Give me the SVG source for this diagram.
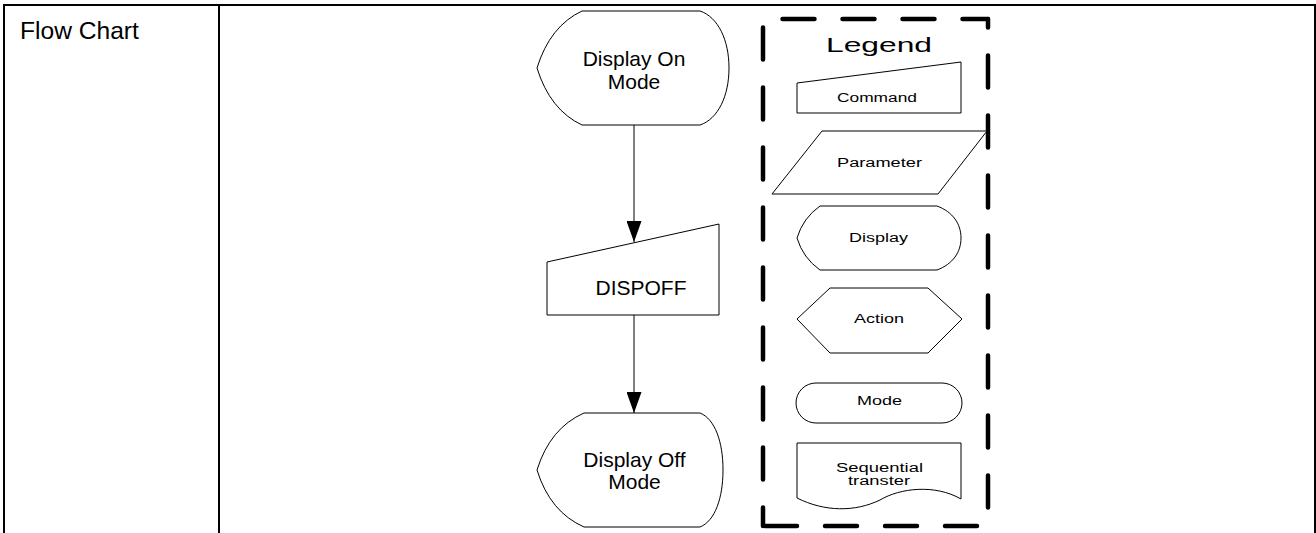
<svg xmlns="http://www.w3.org/2000/svg" width="1316" height="533" viewBox="0 0 1316 533">
  <style>
    .tbl { stroke: #000; stroke-width: 2; fill: none; }
    .shape { fill: #fff; stroke: #000; stroke-width: 1; }
    .big { font-family: "Liberation Sans", Arial, sans-serif; font-size: 21px; fill: #000; text-anchor: middle; }
    .small { font-family: "Liberation Sans", Arial, sans-serif; font-size: 12.5px; fill: #000; }
    .conn { stroke: #000; stroke-width: 1; fill: none; }
    .dash { stroke: #000; stroke-width: 4.5; fill: none; stroke-dasharray: 32 28; stroke-linecap: round; }
  </style>
  <defs>
    <marker id="arrow" viewBox="0 0 21 15" refX="21" refY="7.5" markerWidth="21" markerHeight="15" markerUnits="userSpaceOnUse" orient="auto">
      <path d="M0,0 L21,7.5 L0,15 Z" fill="#000"/>
    </marker>
  </defs>
  <rect width="1316" height="533" fill="#fff"/>

  <g id="table">
    <line class="tbl" x1="3" y1="5" x2="1316" y2="5"/>
    <line class="tbl" x1="4" y1="4" x2="4" y2="533"/>
    <line class="tbl" x1="219" y1="4" x2="219" y2="533"/>
    <line class="tbl" x1="1315" y1="4" x2="1315" y2="533"/>
    <text x="20" y="38.5" font-family="'Liberation Sans', Arial, sans-serif" font-size="24.6" fill="#000">Flow Chart</text>
  </g>

  <g id="connectors">
    <line class="conn" x1="634" y1="125" x2="634" y2="242" marker-end="url(#arrow)"/>
    <line class="conn" x1="634" y1="315" x2="634" y2="413" marker-end="url(#arrow)"/>
  </g>

  <g id="display-on-mode">
    <path class="shape" d="M582,11 H700 C718,17 729,40 729,68 C729,96 718,119 700,125 H582 Q550,110 537,68 Q550,26 582,11 Z"/>
    <text class="big" x="634" y="65.5">Display On</text>
    <text class="big" x="634" y="89">Mode</text>
  </g>

  <g id="dispoff">
    <path class="shape" d="M547,262 L719,224 L719,315 L547,315 Z"/>
    <text class="big" x="641" y="295">DISPOFF</text>
  </g>

  <g id="display-off-mode">
    <path class="shape" d="M584,413 H700 C715,419 723,442 723,470 C723,498 715,521 700,527 H584 Q550,512 537,470 Q550,428 584,413 Z"/>
    <text class="big" x="634.5" y="466.5">Display Off</text>
    <text class="big" x="634.5" y="489">Mode</text>
  </g>

  <g id="legend">
    <path class="dash" d="M988,19 H763" stroke-dashoffset="6.5"/>
    <path class="dash" d="M988,526 V19" stroke-dashoffset="41.5"/>
    <path class="dash" d="M763,19 V526" stroke-dashoffset="51.5"/>
    <path class="dash" d="M763,526 H988" stroke-dashoffset="58"/>
    <text x="826" y="52" font-family="'Liberation Sans', Arial, sans-serif" font-size="19.5" fill="#000" textLength="106" lengthAdjust="spacingAndGlyphs">Legend</text>

    <g id="legend-command">
      <path class="shape" d="M797,83 L961,62 L961,113 L797,113 Z"/>
      <text class="small" x="837" y="102" textLength="80" lengthAdjust="spacingAndGlyphs">Command</text>
    </g>
    <g id="legend-parameter">
      <path class="shape" d="M822,131 L987,131 L938,194 L772,194 Z"/>
      <text class="small" x="837" y="167" textLength="85" lengthAdjust="spacingAndGlyphs">Parameter</text>
    </g>
    <g id="legend-display">
      <path class="shape" d="M820,206 H937 C953,212 961,224 961,238 C961,252 953,264 937,270 H820 Q803,258 797,238 Q803,218 820,206 Z"/>
      <text class="small" x="849" y="242" textLength="59" lengthAdjust="spacingAndGlyphs">Display</text>
    </g>
    <g id="legend-action">
      <path class="shape" d="M797,319 L830,288 L928,288 L962,319 L928,353 L830,353 Z"/>
      <text class="small" x="854" y="323" textLength="50" lengthAdjust="spacingAndGlyphs">Action</text>
    </g>
    <g id="legend-mode">
      <rect class="shape" x="796" y="383" width="166" height="40" rx="20" ry="20"/>
      <text class="small" x="857" y="405" textLength="45" lengthAdjust="spacingAndGlyphs">Mode</text>
    </g>
    <g id="legend-sequential">
      <path class="shape" d="M797,443 H961 V499 C935,484 900,488 880,500 C855,512 825,512 797,498 Z"/>
      <text class="small" x="836" y="471.5" textLength="87" lengthAdjust="spacingAndGlyphs">Sequential</text>
      <text class="small" x="848" y="485" textLength="62" lengthAdjust="spacingAndGlyphs">transter</text>
    </g>
  </g>
</svg>
